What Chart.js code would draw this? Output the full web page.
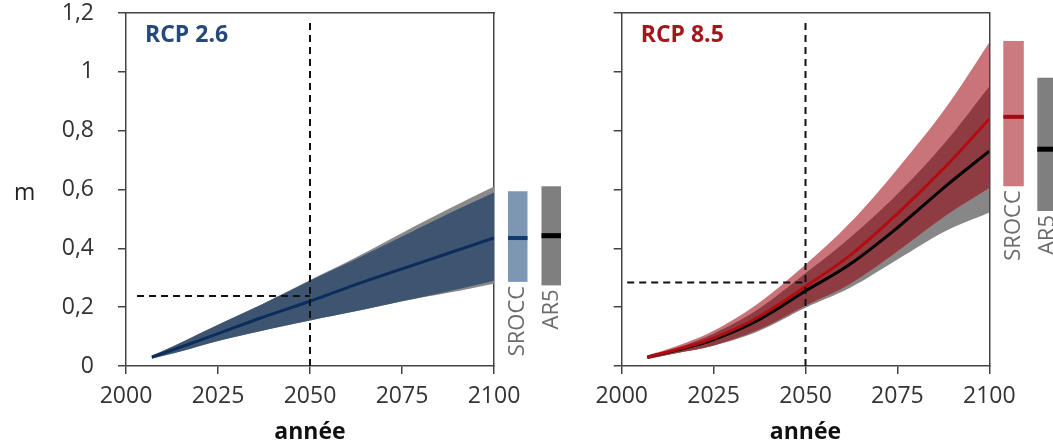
<!DOCTYPE html>
<html><head><meta charset="utf-8">
<script src="https://cdn.jsdelivr.net/npm/chart.js@4.4.1/dist/chart.umd.min.js"></script>
<style>
html,body{margin:0;padding:0;background:#fff;width:1053px;height:446px;overflow:hidden}
#l{position:absolute;left:0;top:0;width:562px;height:446px}
#r{position:absolute;left:560px;top:0;width:493px;height:446px}
</style></head><body>
<div id="l"><canvas id="c1"></canvas></div>
<div id="r"><canvas id="c2"></canvas></div>
<script>
// ---------- data ----------
const years = [2007, 2015, 2025, 2037, 2050, 2062, 2075, 2088, 2100];
const yTickLabels = ['0', '0,2', '0,4', '0,6', '0,8', '1', '1,2'];
const axisTitle = 'année';
const unitLabel = 'm';

// RCP 2.6
const rcp26SroccMedian = [0.030, 0.065, 0.110, 0.165, 0.220, 0.275, 0.330, 0.385, 0.435];
const rcp26SroccUpper  = [0.035, 0.080, 0.140, 0.210, 0.290, 0.360, 0.440, 0.520, 0.590];
const rcp26SroccLower  = [0.025, 0.050, 0.085, 0.120, 0.155, 0.185, 0.220, 0.255, 0.290];
const rcp26Ar5Upper    = [0.035, 0.080, 0.140, 0.210, 0.292, 0.366, 0.452, 0.536, 0.610];
const rcp26Ar5Lower    = [0.025, 0.050, 0.085, 0.120, 0.155, 0.185, 0.220, 0.250, 0.280];
const rcp26Bars = { srocc: [0.286, 0.435, 0.594], ar5: [0.274, 0.443, 0.611] }; // low, median, high
const rcp26Guide = { year: 2050, level: 0.238, from: 2003, top: 1.176 };

// RCP 8.5
const rcp85SroccMedian = [0.030, 0.056, 0.095, 0.165, 0.270, 0.375, 0.518, 0.677, 0.840];
const rcp85SroccUpper  = [0.036, 0.068, 0.120, 0.212, 0.345, 0.485, 0.670, 0.875, 1.100];
const rcp85SroccLower  = [0.024, 0.044, 0.070, 0.122, 0.205, 0.278, 0.390, 0.510, 0.605];
const rcp85Ar5Median   = [0.030, 0.054, 0.090, 0.155, 0.255, 0.345, 0.470, 0.610, 0.730];
const rcp85Ar5Upper    = [0.034, 0.062, 0.110, 0.192, 0.315, 0.435, 0.585, 0.760, 0.950];
const rcp85Ar5Lower    = [0.025, 0.044, 0.069, 0.117, 0.198, 0.265, 0.362, 0.458, 0.522];
const rcp85Bars = { srocc: [0.611, 0.847, 1.105], ar5: [0.527, 0.737, 0.980] };
const rcp85Guide = { year: 2050, level: 0.284, from: 2001.5, top: 1.176 };

// ---------- helpers ----------
Chart.defaults.font.family = "'Open Sans', sans-serif";
Chart.defaults.color = '#333';
const pts = ys => years.map((x, i) => ({ x, y: ys[i] }));
const AXC = '#444';

function band(data, color, target, order) {
  return { data: pts(data), backgroundColor: color, borderColor: 'rgba(0,0,0,0)', borderWidth: 0,
           fill: target === null ? false : { target }, order, pointRadius: 0, tension: 0.35 };
}
function line(data, color, order) {
  return { data: pts(data), borderColor: color, borderWidth: 3, fill: false, order, pointRadius: 0,
           tension: 0.35 };
}
function guides(g) {
  return [
    { data: [{ x: g.year, y: 0 }, { x: g.year, y: g.top }], borderColor: '#111', borderWidth: 2,
      borderDash: [7, 5], pointRadius: 0, fill: false, order: -2, clip: false },
    { data: [{ x: g.from, y: g.level }, { x: g.year, y: g.level }], borderColor: '#111', borderWidth: 2,
      borderDash: [7, 5], pointRadius: 0, fill: false, order: -1 }
  ];
}

function decorPlugin(cfg) {
  return {
    id: 'decor',
    afterDraw(chart) {
      const { ctx, chartArea, scales: { y } } = chart;
      ctx.save();
      ctx.font = "bold 23px 'Open Sans'";
      ctx.fillStyle = cfg.titleColor;
      ctx.textBaseline = 'alphabetic';
      ctx.textAlign = 'left';
      ctx.fillText(cfg.title, chartArea.left + 19, chartArea.top + 29);
      ctx.restore();
      cfg.bars.forEach(b => {
        const x0 = chartArea.right + b.offset;
        const yt = y.getPixelForValue(b.vals[2]);
        const yb = y.getPixelForValue(b.vals[0]);
        const ym = y.getPixelForValue(b.vals[1]);
        ctx.save();
        ctx.fillStyle = b.color;
        ctx.fillRect(x0, yt, b.width, yb - yt);
        ctx.fillStyle = b.medianColor;
        ctx.fillRect(x0, ym - b.mw / 2, b.width, b.mw);
        ctx.translate(x0 + b.width / 2, yb + 4);
        ctx.rotate(-Math.PI / 2);
        ctx.font = "22px 'Open Sans'";
        ctx.fillStyle = '#6b6b6b';
        ctx.textAlign = 'right';
        ctx.textBaseline = 'middle';
        ctx.fillText(b.label, 0, 0);
        ctx.restore();
      });
      if (cfg.unit) {
        ctx.save();
        ctx.font = "23px 'Open Sans'";
        ctx.fillStyle = '#222';
        ctx.textAlign = 'left';
        ctx.textBaseline = 'alphabetic';
        ctx.fillText(cfg.unit, 14, 200);
        ctx.restore();
      }
    }
  };
}

function makeScales(showYLabels, yWidth) {
  return {
    x: { type: 'linear', min: 2000, max: 2100,
         ticks: { stepSize: 25, padding: 9, font: { size: 23 }, color: '#333', callback: v => String(v) },
         grid: { drawOnChartArea: false, drawTicks: true, tickLength: 8, color: AXC, lineWidth: 1.5 },
         border: { display: true, color: AXC, width: 1.5 },
         title: { display: true, text: axisTitle, font: { size: 23, weight: 'bold' }, color: '#111', padding: 0 },
         afterFit: s => { s.height = 80; } },
    y: { type: 'linear', min: 0, max: 1.2,
         ticks: { stepSize: 0.2, padding: 24, display: showYLabels, font: { size: 23 }, color: '#333',
                  callback: (v, i) => yTickLabels[i] },
         grid: { drawOnChartArea: false, drawTicks: true, tickLength: 8, color: AXC, lineWidth: 1.5 },
         border: { display: true, color: AXC, width: 1.5 },
         afterFit: s => { s.width = yWidth; s.paddingTop = 12; s.paddingBottom = 12; } },
    xTop: { type: 'linear', position: 'top', min: 2000, max: 2100, ticks: { display: false },
            grid: { drawOnChartArea: false, drawTicks: false }, border: { display: true, color: AXC, width: 1.5 },
            afterFit: s => { s.height = 0; } },
    yRight: { type: 'linear', position: 'right', min: 0, max: 1.2, ticks: { display: false },
              grid: { drawOnChartArea: false, drawTicks: false }, border: { display: true, color: AXC, width: 1.5 },
              afterFit: s => { s.width = 0; } }
  };
}

const baseOpts = (scales, padRight) => ({
  responsive: true, maintainAspectRatio: false, animation: false,
  layout: { padding: { left: 0, right: padRight, top: 13, bottom: 0 } },
  plugins: { legend: { display: false }, tooltip: { enabled: false } },
  scales
});

// ---------- RCP 2.6 ----------
new Chart(document.getElementById('c1'), {
  type: 'line',
  data: { datasets: [
    line(rcp26SroccMedian, '#0c2d5b', 0),
    ...guides(rcp26Guide),
    band(rcp26SroccUpper, '#3e5572', 4, 3),
    band(rcp26SroccLower, '#3e5572', null, 4),
    band(rcp26Ar5Upper, '#8a8a8a', 6, 5),
    band(rcp26Ar5Lower, '#8a8a8a', null, 6)
  ] },
  options: baseOpts(makeScales(true, 126), 68),
  plugins: [decorPlugin({
    title: 'RCP 2.6', titleColor: '#24497a', unit: unitLabel,
    bars: [
      { vals: rcp26Bars.srocc, offset: 14, width: 19.5, color: '#7d96b4', medianColor: '#123a6e', mw: 4, label: 'SROCC' },
      { vals: rcp26Bars.ar5, offset: 47.5, width: 19.5, color: '#7f7f7f', medianColor: '#000', mw: 5, label: 'AR5' }
    ]
  })]
});

// ---------- RCP 8.5 ----------
new Chart(document.getElementById('c2'), {
  type: 'line',
  data: { datasets: [
    line(rcp85SroccMedian, '#b30b12', 0),
    line(rcp85Ar5Median, '#000', 1),
    ...guides(rcp85Guide),
    band(rcp85Ar5Upper, '#8e3c42', 6, 3),
    band(rcp85SroccUpper, '#c97479', 6, 4),
    band(rcp85SroccLower, '#c97479', null, 5),
    band(rcp85Ar5Upper, '#878787', 8, 6),
    band(rcp85Ar5Lower, '#878787', null, 7)
  ] },
  options: baseOpts(makeScales(false, 61.7), 63.7),
  plugins: [decorPlugin({
    title: 'RCP 8.5', titleColor: '#a3161c', unit: null,
    bars: [
      { vals: rcp85Bars.srocc, offset: 14, width: 20.5, color: '#cb7a7f', medianColor: '#a30a10', mw: 4, label: 'SROCC' },
      { vals: rcp85Bars.ar5, offset: 48, width: 20.5, color: '#7f7f7f', medianColor: '#000', mw: 5, label: 'AR5' }
    ]
  })]
});
</script>
</body></html>
